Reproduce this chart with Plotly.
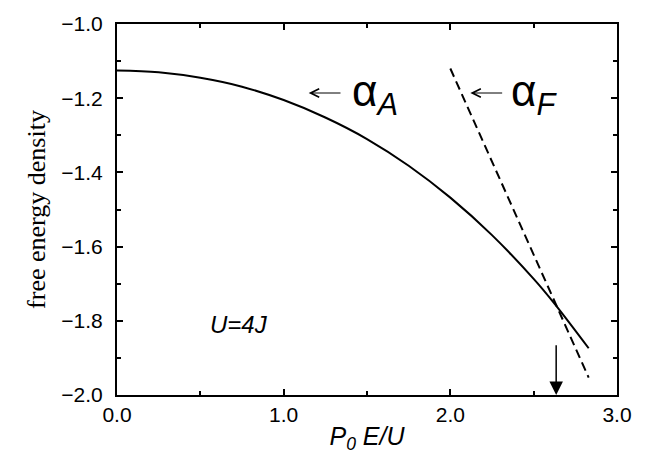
import plotly.graph_objects as go

# alpha_A curve (solid)
xa = [0.0, 0.25, 0.5, 0.75, 1.0, 1.25, 1.5, 1.75, 2.0, 2.25, 2.5, 2.62, 2.83]
ya = [-1.125, -1.130, -1.145, -1.169, -1.205, -1.252, -1.310, -1.382, -1.468, -1.569, -1.687, -1.751, -1.874]
# alpha_F line (dashed)
xf = [2.0, 2.83]
yf = [-1.12, -1.953]
# transition marker
x_trans = 2.635

xticks = [0.0, 1.0, 2.0, 3.0]
xtick_labels = ["0.0", "1.0", "2.0", "3.0"]
yticks = [-2.0, -1.8, -1.6, -1.4, -1.2, -1.0]
ytick_labels = ["\u22122.0", "\u22121.8", "\u22121.6", "\u22121.4", "\u22121.2", "\u22121.0"]

fig = go.Figure()
fig.add_trace(go.Scatter(x=xa, y=ya, mode="lines", line=dict(color="black", width=2, shape="spline"),
                         showlegend=False, hoverinfo="skip"))
fig.add_trace(go.Scatter(x=xf, y=yf, mode="lines", line=dict(color="black", width=2, dash="9px,5px"),
                         showlegend=False, hoverinfo="skip"))

sans = "Liberation Sans, Arial, sans-serif"
serif = "Liberation Serif, Times New Roman, serif"

axis_common = dict(showline=True, linecolor="black", linewidth=2, mirror="allticks",
                   ticks="inside", ticklen=6, tickwidth=2, tickcolor="black",
                   showgrid=False, zeroline=False,
                   tickfont=dict(family=sans, size=21, color="black"))

fig.update_xaxes(range=[0, 3.0], tickvals=xticks, ticktext=xtick_labels,
                 minor=dict(dtick=0.5, ticks="inside", ticklen=4, tickwidth=2, tickcolor="black"),
                 title=dict(text="<i>P<sub>0</sub> E/U</i>", font=dict(family=sans, size=25, color="black"),
                            standoff=2),
                 **axis_common)
fig.update_yaxes(range=[-2.0, -1.0], tickvals=yticks, ticktext=ytick_labels,
                 minor=dict(dtick=0.1, ticks="inside", ticklen=4, tickwidth=2, tickcolor="black"),
                 ticklabelstandoff=8,
                 title=dict(text="free energy density", font=dict(family=serif, size=26, color="black"),
                            standoff=8),
                 **axis_common)

# transition arrow
fig.add_annotation(x=x_trans, y=-2.0, ax=x_trans, ay=-1.862, xref="x", yref="y", axref="x", ayref="y",
                   showarrow=True, arrowhead=2, arrowsize=1.8, arrowwidth=1.5, arrowcolor="black", text="")

# pointer arrows (thin, open heads)
fig.add_annotation(x=1.15, y=-1.186, ax=1.35, ay=-1.186, xref="x", yref="y", axref="x", ayref="y",
                   showarrow=True, arrowhead=5, arrowsize=1.7, arrowwidth=1, arrowcolor="black", text="")
fig.add_annotation(x=2.12, y=-1.186, ax=2.32, ay=-1.186, xref="x", yref="y", axref="x", ayref="y",
                   showarrow=True, arrowhead=5, arrowsize=1.7, arrowwidth=1, arrowcolor="black", text="")

# labels
fig.add_annotation(x=1.55, y=-1.19, xref="x", yref="y", text="\u03b1<sub><i>A</i></sub>", showarrow=False,
                   font=dict(family=sans, size=44, color="black"), xanchor="center", yanchor="middle")
fig.add_annotation(x=2.50, y=-1.19, xref="x", yref="y", text="\u03b1<sub><i>F</i></sub>", showarrow=False,
                   font=dict(family=sans, size=44, color="black"), xanchor="center", yanchor="middle")
fig.add_annotation(x=0.73, y=-1.81, xref="x", yref="y", text="<i>U=4J</i>", showarrow=False,
                   font=dict(family=sans, size=24, color="black"), xanchor="center", yanchor="middle")

fig.update_layout(width=659, height=460, margin=dict(l=117, r=42, t=13, b=65),
                  plot_bgcolor="white", paper_bgcolor="white")

fig.write_html("out.html")
